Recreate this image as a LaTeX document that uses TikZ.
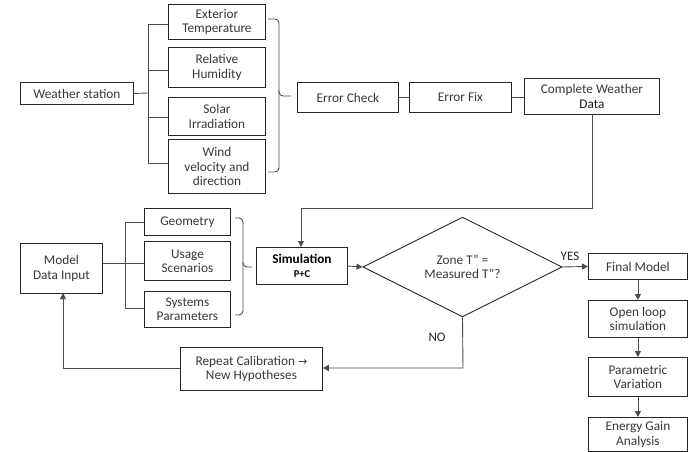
\documentclass[tikz,border=0pt]{standalone}
\usepackage{fontspec}
\setmainfont{Carlito}
\newfontfamily\symf{DejaVu Sans}
\usetikzlibrary{shapes.geometric,arrows.meta}
\tikzset{
  box/.style={draw=black!85, line width=0.9pt, anchor=north west, inner sep=0pt, align=center, text=black!78, font=\fontsize{13.3}{14.2}\selectfont},
  conn/.style={draw=black!70, line width=0.9pt},
  arr/.style={conn, -{Triangle[length=6pt,width=6pt]}},
  lbl/.style={text=black!85, font=\fontsize{13}{14}\selectfont, inner sep=0pt}
}
\begin{document}
\begin{tikzpicture}[x=1pt,y=-1pt]
\useasboundingbox (0,0) rectangle (694,452);
% top part
\node[box, minimum width=113pt, minimum height=22pt] (ws) at (20,82) {Weather station};
\node[box, minimum width=97pt, minimum height=35pt] (et) at (168,4) {Exterior\\Temperature};
\node[box, minimum width=97pt, minimum height=40pt] (rh) at (168,47) {Relative\\Humidity};
\node[box, minimum width=97pt, minimum height=38pt] (si) at (168,97) {Solar\\Irradiation};
\node[box, minimum width=97pt, minimum height=54pt] (wv) at (168,139) {Wind\\velocity and\\direction};
\node[box, minimum width=101pt, minimum height=30pt] (ec) at (297,82) {Error Check};
\node[box, minimum width=102pt, minimum height=30pt] (ef) at (409,82) {Error Fix};
\node[box, minimum width=135pt, minimum height=36pt] (cwd) at (524,78) {Complete Weather\\\textcolor{black!90}{Data}};
% bottom part
\node[box, minimum width=82pt, minimum height=50pt] (mdi) at (20,243) {Model\\Data Input};
\node[box, minimum width=86pt, minimum height=27pt] (geo) at (144,208) {Geometry};
\node[box, minimum width=86pt, minimum height=39pt] (us) at (144,241) {Usage\\Scenarios};
\node[box, minimum width=86pt, minimum height=36pt] (sp) at (144,291) {Systems\\Parameters};
\node[box, minimum width=91pt, minimum height=37pt, text=black] (sim) at (256,247) {\textbf{Simulation}\\[-1pt]{\fontsize{10.5}{12}\selectfont\textbf{P+C}}};
\node[box, minimum width=142pt, minimum height=43pt] (rc) at (180,347) {Repeat Calibration {\symf\fontsize{11}{12}\selectfont →}\\New Hypotheses};
\node[box, anchor=center, diamond, minimum width=199pt, minimum height=90pt] (dia) at (462.5,267) {Zone T" =\\Measured T"?};
\node[box, minimum width=99pt, minimum height=26pt] (fm) at (588,253) {Final Model};
\node[box, minimum width=99pt, minimum height=37pt] (ol) at (588,300) {Open loop\\simulation};
\node[box, minimum width=99pt, minimum height=39pt] (pv) at (588,357) {Parametric\\Variation};
\node[box, minimum width=99pt, minimum height=34pt] (eg) at (588,417) {Energy Gain\\Analysis};
\node[lbl] (yes) at (570,256) {YES};
\node[lbl] (no) at (437,337) {NO};
% weather branch
\coordinate (wb) at (148,93);
\draw[conn] (ws.east) -- (wb);
\draw[conn] (148,24) -- (148,163);
\draw[conn] (148,24) -- (et.west |- 148,24);
\draw[conn] (148,70) -- (rh.west |- 148,70);
\draw[conn] (148,117) -- (si.west |- 148,117);
\draw[conn] (148,163) -- (wv.west |- 148,163);
% brace 1
\draw[conn, rounded corners=4pt] (268,19) -- (279,19) -- (279,96) -- (291,96);
\draw[conn, rounded corners=4pt] (279,90) -- (279,172) -- (268,172);
% chain
\draw[conn] (ec.east) -- (ef.west);
\draw[conn] (ef.east) -- (ef.east -| cwd.west);
\draw[arr] (592,114) -- (592,208) -- (301,208) -- (301,247);
% model branch
\draw[conn] (mdi.east |- 0,263) -- (geo.west |- 0,263);
\draw[conn] (125,222) -- (125,308);
\draw[conn] (125,222) -- (geo.west |- 0,222);
\draw[conn] (125,308) -- (sp.west |- 0,308);
% brace 2
\draw[conn, rounded corners=4pt] (235,218) -- (243,218) -- (243,267) -- (252,267);
\draw[conn, rounded corners=4pt] (243,262) -- (243,315) -- (235,315);
% flow
\draw[arr] (sim.east |- 0,266) -- (dia.west);
\draw[arr] (dia.east) -- (fm.west);
\draw[arr] (dia.south) -- (463,368) -- (rc.east |- 0,368);
\draw[arr] (rc.west |- 0,368) -- (63,368) -- (63,293);
\draw[arr] (fm.south) -- (ol.north);
\draw[arr] (ol.south) -- (pv.north);
\draw[arr] (pv.south) -- (eg.north);
\end{tikzpicture}
\end{document}
